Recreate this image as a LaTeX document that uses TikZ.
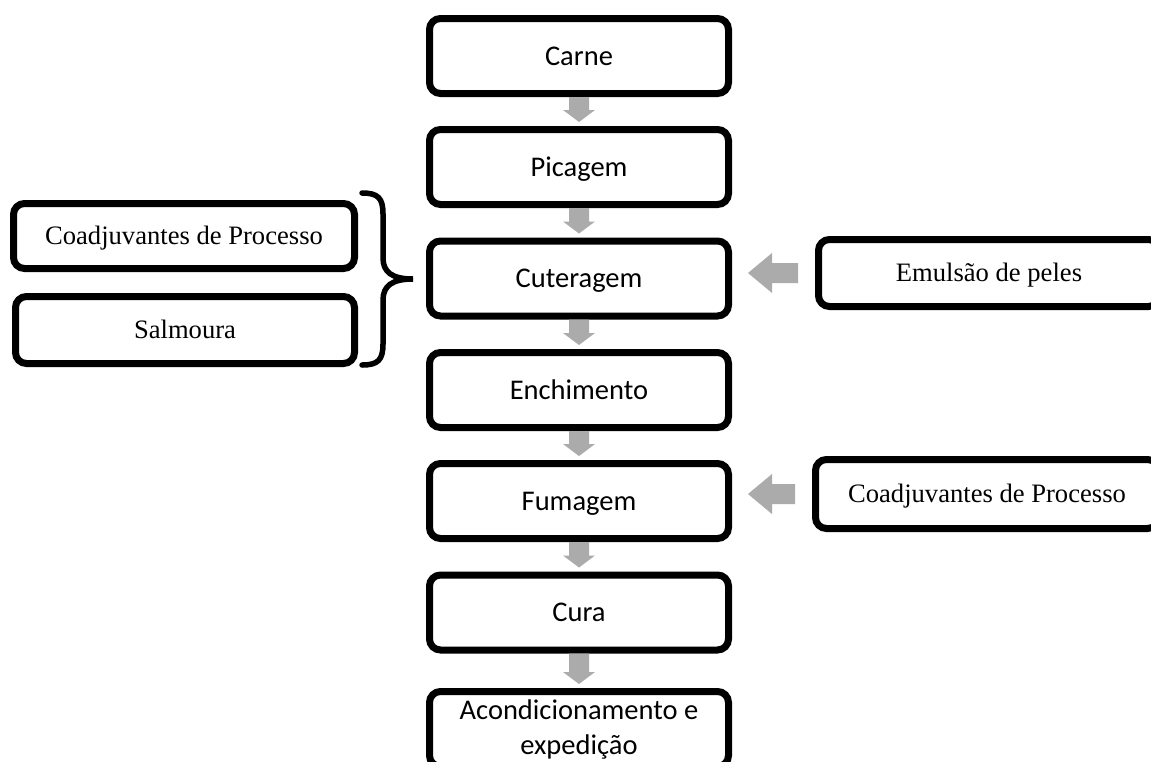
\documentclass[tikz,border=0pt]{standalone}
\usepackage{fontspec}
\setmainfont{Liberation Serif}
\newfontfamily\calibri{Carlito}
\usetikzlibrary{calc}
\definecolor{arrowgray}{RGB}{171,171,171}
\tikzset{
  mainbox/.style={draw=black, line width=7pt, rounded corners=11pt, fill=white,
    minimum width=299pt, minimum height=75pt, inner sep=0pt,
    font=\calibri\fontsize{28.5}{33}\selectfont, text height=18.4pt, text depth=0pt},
  sidebox/.style={draw=black, line width=7pt, rounded corners=11pt, fill=white,
    inner sep=0pt, font=\fontsize{26.6}{31}\selectfont, text height=17.6pt, text depth=0pt},
  garrow/.style={fill=arrowgray, draw=none},
  bracepath/.style={draw=black, line width=5.5pt, line cap=round}
}
\begin{document}
\begin{tikzpicture}[x=1pt, y=-1pt]
\useasboundingbox (0,0) rectangle (1151,761);
\clip (0,0) rectangle (1151,761);
\fill[white] (0,0) rectangle (1151,761);

% main column
\node[mainbox] (carne) at (579,56) {Carne};
\node[mainbox] (pic) at (579,167) {Picagem};
\node[mainbox] (cut) at (579,278.5) {Cuteragem};
\node[mainbox] (enc) at (579,390) {Enchimento};
\node[mainbox] (fum) at (579,501) {Fumagem};
\node[mainbox] (cura) at (579,612.5) {Cura};
\node[mainbox, align=center, text height=, text depth=] (acon) at (579,729) {Acondicionamento e\\[2pt]expedição};

% left boxes
\node[sidebox, minimum width=341pt, minimum height=65pt] (coadL) at (184,236) {Coadjuvantes de Processo};
\node[sidebox, minimum width=339pt, minimum height=67pt] (salm) at (185,330) {Salmoura};

% right boxes
\node[sidebox, minimum width=341pt, minimum height=67pt] (emul) at (989,273) {Emulsão de peles};
\node[sidebox, minimum width=343pt, minimum height=69pt] (coadR) at (987,494) {Coadjuvantes de Processo};

% down arrows
\foreach \a/\b in {carne/pic, pic/cut, cut/enc, enc/fum, fum/cura, cura/acon}{
  \fill[garrow] ($(\a.south)+(-10,0)$) -- ($(\b.north)+(-10,-16)$) -- ($(\b.north)+(-16,-16)$)
    -- ($(\b.north)+(0,-4)$) -- ($(\b.north)+(16,-16)$) -- ($(\b.north)+(10,-16)$)
    -- ($(\a.south)+(10,0)$) -- cycle;
}

% left-pointing arrows
\foreach \s/\t in {emul/cut, coadR/fum}{
  \fill[garrow] let \p1=(\s.west), \p2=(\t.east) in
    (\x1-17,\y1-10) -- (\x2+40,\y1-10) -- (\x2+40,\y1-20) -- (\x2+16,\y1)
    -- (\x2+40,\y1+20) -- (\x2+40,\y1+10) -- (\x1-17,\y1+10) -- cycle;
}

% brace
\coordinate (btip) at (413,279);
\draw[bracepath] (362,193) .. controls (378,193) and (383,198) .. (383,214)
  -- (383,258) .. controls (383,272) and (392,279) .. (btip)
  .. controls (392,279) and (383,286) .. (383,300)
  -- (383,344) .. controls (383,360) and (378,365) .. (362,365);
\end{tikzpicture}
\end{document}
